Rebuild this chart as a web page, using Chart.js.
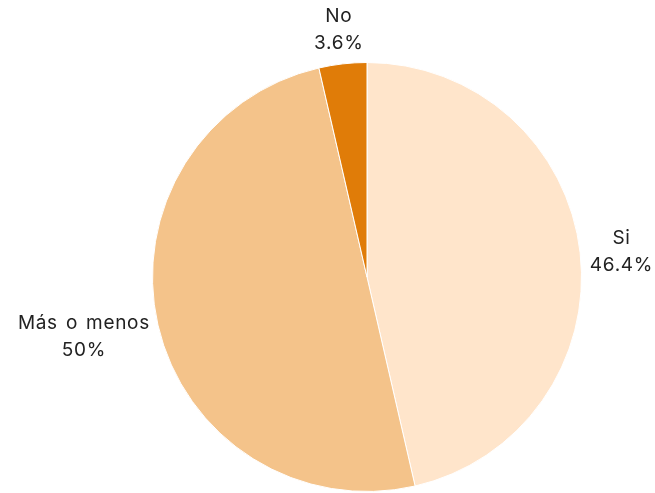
<!DOCTYPE html>
<html>
<head>
<meta charset="utf-8">
<script src="https://cdn.jsdelivr.net/npm/chart.js@4"></script>
<style>
  html, body { margin: 0; padding: 0; background: #fff; }
  #wrap { width: 655px; height: 493px; }
</style>
</head>
<body>
<div id="wrap"><canvas id="grafico"></canvas></div>
<script>
// respuestas de la encuesta
const categorias = ['Si', 'Más o menos', 'No'];
const porcentajes = [46.4, 50, 3.6];
const colores = ['#FFE5CB', '#F4C38A', '#E07C08'];

// etiquetas fuera del pastel: nombre y porcentaje en dos líneas
const etiquetasFuera = {
    id: 'etiquetasFuera',
    afterDraw(chart) {
        const ctx = chart.ctx;
        const meta = chart.getDatasetMeta(0);
        ctx.save();
        ctx.font = '19px Inter, "Open Sans", sans-serif';
        ctx.letterSpacing = '0.7px';
        ctx.wordSpacing = '2px';
        ctx.fillStyle = '#222';
        ctx.textAlign = 'center';
        ctx.textBaseline = 'middle';
        const altoLinea = 27;
        meta.data.forEach((arco, i) => {
            const ang = (arco.startAngle + arco.endAngle) / 2;
            const r = arco.outerRadius + 10;
            const px = arco.x + Math.cos(ang) * r;
            const py = arco.y + Math.sin(ang) * r;
            const lineas = [categorias[i], porcentajes[i] + '%'];
            const ancho = Math.max(...lineas.map(t => ctx.measureText(t).width));
            const alto = altoLinea * lineas.length;
            const cx = px + Math.cos(ang) * ancho / 2;
            const cy = py + Math.sin(ang) * alto / 2 + 3;
            lineas.forEach((t, j) => {
                ctx.fillText(t, cx, cy - alto / 2 + altoLinea * (j + 0.5));
            });
        });
        ctx.restore();
    }
};

new Chart(document.getElementById('grafico'), {
    type: 'pie',
    data: {
        labels: categorias,
        datasets: [{
            data: porcentajes,
            backgroundColor: colores,
            borderColor: '#fff',
            borderWidth: 1
        }]
    },
    options: {
        responsive: true,
        maintainAspectRatio: false,
        animation: false,
        layout: { padding: { top: 62, bottom: 1, left: 152, right: 73 } },
        plugins: {
            legend: { display: false },
            tooltip: { enabled: false }
        }
    },
    plugins: [etiquetasFuera]
});
</script>
</body>
</html>
